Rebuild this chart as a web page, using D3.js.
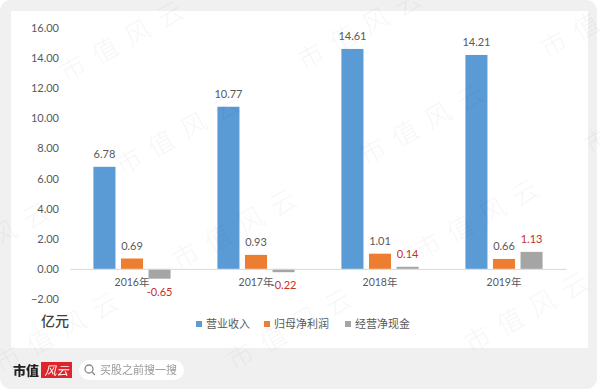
<!DOCTYPE html>
<html>
<head>
<meta charset="utf-8">
<script src="https://cdn.jsdelivr.net/npm/d3@7"></script>
<style>
  html, body { margin: 0; padding: 0; background: #fff; overflow: hidden; }
  svg { display: block; filter: blur(0.55px); }
  text { font-family: Lato, "Noto Sans CJK SC", sans-serif; }
</style>
</head>
<body>
<div id="chart"></div>
<script>
const years = ["2016年", "2017年", "2018年", "2019年"];
const seriesNames = ["营业收入", "归母净利润", "经营净现金"];
const revenue = [6.78, 10.77, 14.61, 14.21];
const netProfit = [0.69, 0.93, 1.01, 0.66];
const cashFlow = [-0.65, -0.22, 0.14, 1.13];
const yTicks = [-2, 0, 2, 4, 6, 8, 10, 12, 14, 16];
const colors = ["#5b9bd5", "#ed7d31", "#a5a5a5"];

const width = 600;
const height = 389;
const labelGrey = "#595959";
const red = "#c4302b";

const svg = d3.select("#chart")
  .append("svg")
  .attr("width", width)
  .attr("height", height)
  .attr("viewBox", `0 0 ${width} ${height}`);

// card background
svg.append("rect")
  .attr("width", 597).attr("height", height)
  .attr("rx", 11)
  .attr("fill", "#f0f0f0");
svg.append("rect")
  .attr("x", 11).attr("y", 11)
  .attr("width", 577).attr("height", 337)
  .attr("fill", "#fff");

const xGroup = d3.scaleBand().domain(years).range([70, 566]);
const xSeries = d3.scaleBand()
  .domain(seriesNames)
  .range([0, xGroup.bandwidth()])
  .paddingInner(0.2)
  .paddingOuter(0.85);
const yScale = d3.scaleLinear().domain([-2, 16]).range([299, 28]);

const allValues = [revenue, netProfit, cashFlow];

// Y axis
const yAxis = svg.append("g")
  .attr("transform", "translate(59,0)")
  .call(d3.axisLeft(yScale).tickValues(yTicks).tickSize(0).tickPadding(0).tickFormat(d3.format(".2f")));
yAxis.select(".domain").remove();
yAxis.selectAll("text")
  .attr("fill", labelGrey)
  .style("font-size", "11px");

// bars
seriesNames.forEach((name, i) => {
  svg.append("g")
    .selectAll("rect")
    .data(allValues[i])
    .join("rect")
    .attr("x", (d, j) => xGroup(years[j]) + xSeries(name))
    .attr("y", d => yScale(Math.max(d, 0)))
    .attr("width", xSeries.bandwidth())
    .attr("height", d => Math.abs(yScale(d) - yScale(0)))
    .attr("fill", colors[i]);

  // value labels, cash flow ones are red
  svg.append("g")
    .selectAll("text")
    .data(allValues[i])
    .join("text")
    .attr("x", (d, j) => xGroup(years[j]) + xSeries(name) + xSeries.bandwidth() / 2)
    .attr("y", d => d < 0 ? yScale(d) + 17 : yScale(d) - 9)
    .attr("text-anchor", "middle")
    .attr("fill", i === 2 ? red : labelGrey)
    .style("font-size", "11px")
    .text(d => d.toFixed(2));
});

// X axis
const xAxis = svg.append("g")
  .attr("transform", `translate(0,${yScale(0)})`)
  .call(d3.axisBottom(xGroup).tickSize(0).tickPadding(10));
xAxis.select(".domain").attr("stroke", "#d9d9d9");
xAxis.selectAll("text")
  .attr("fill", labelGrey)
  .style("font-size", "10.5px");

// unit label
svg.append("text")
  .attr("x", 41).attr("y", 326)
  .attr("fill", "#404040")
  .style("font-size", "14px")
  .style("font-weight", 500)
  .text("亿元");

// legend
const legendX = [197, 265, 346];
const legend = svg.append("g")
  .selectAll("g")
  .data(seriesNames)
  .join("g")
  .attr("transform", (d, i) => `translate(${legendX[i]},324)`);
legend.append("rect")
  .attr("x", -1).attr("y", -3)
  .attr("width", 6).attr("height", 6)
  .attr("fill", (d, i) => colors[i]);
legend.append("text")
  .attr("x", 9).attr("y", 4)
  .attr("fill", labelGrey)
  .style("font-size", "11px")
  .text(d => d);

// footer logo and search box
svg.append("text")
  .attr("x", 13).attr("y", 375)
  .attr("fill", "#222")
  .style("font-family", "'Noto Sans CJK SC'")
  .style("font-size", "13px")
  .style("font-weight", 900)
  .text("市值");
svg.append("rect")
  .attr("x", 41).attr("y", 362)
  .attr("width", 31).attr("height", 16)
  .attr("fill", "#e0242c");
svg.append("text")
  .attr("x", 56.5).attr("y", 374.5)
  .attr("text-anchor", "middle")
  .attr("fill", "#fff")
  .style("font-size", "12px")
  .style("font-style", "italic")
  .text("风云");
svg.append("rect")
  .attr("x", 79).attr("y", 360)
  .attr("width", 105).attr("height", 20)
  .attr("rx", 10)
  .attr("fill", "#fff");
svg.append("circle")
  .attr("cx", 89).attr("cy", 369).attr("r", 4)
  .attr("fill", "none")
  .attr("stroke", "#888")
  .attr("stroke-width", 1.3);
svg.append("line")
  .attr("x1", 92).attr("y1", 372).attr("x2", 95).attr("y2", 375)
  .attr("stroke", "#888")
  .attr("stroke-width", 1.3);
svg.append("text")
  .attr("x", 100).attr("y", 374)
  .attr("fill", "#999")
  .style("font-size", "11px")
  .text("买股之前搜一搜");

// watermark, laid over everything
const markStarts = [
  [72, 67], [128, 160], [310, 55], [553, 43], [372, 150], [185, 255],
  [-62, 268], [7, 358], [240, 355], [427, 245], [477, 338], [597, 140]
];
svg.append("g")
  .selectAll("text")
  .data(markStarts)
  .join("text")
  .attr("transform", d => `translate(${d[0]},${d[1]}) rotate(-29)`)
  .attr("x", -13).attr("y", 11)
  .attr("fill", "#000")
  .attr("fill-opacity", 0.04)
  .style("font-family", "'Noto Sans CJK SC'")
  .style("font-size", "26px")
  .style("font-weight", 300)
  .style("letter-spacing", "11px")
  .text("市值风云");
</script>
</body>
</html>
